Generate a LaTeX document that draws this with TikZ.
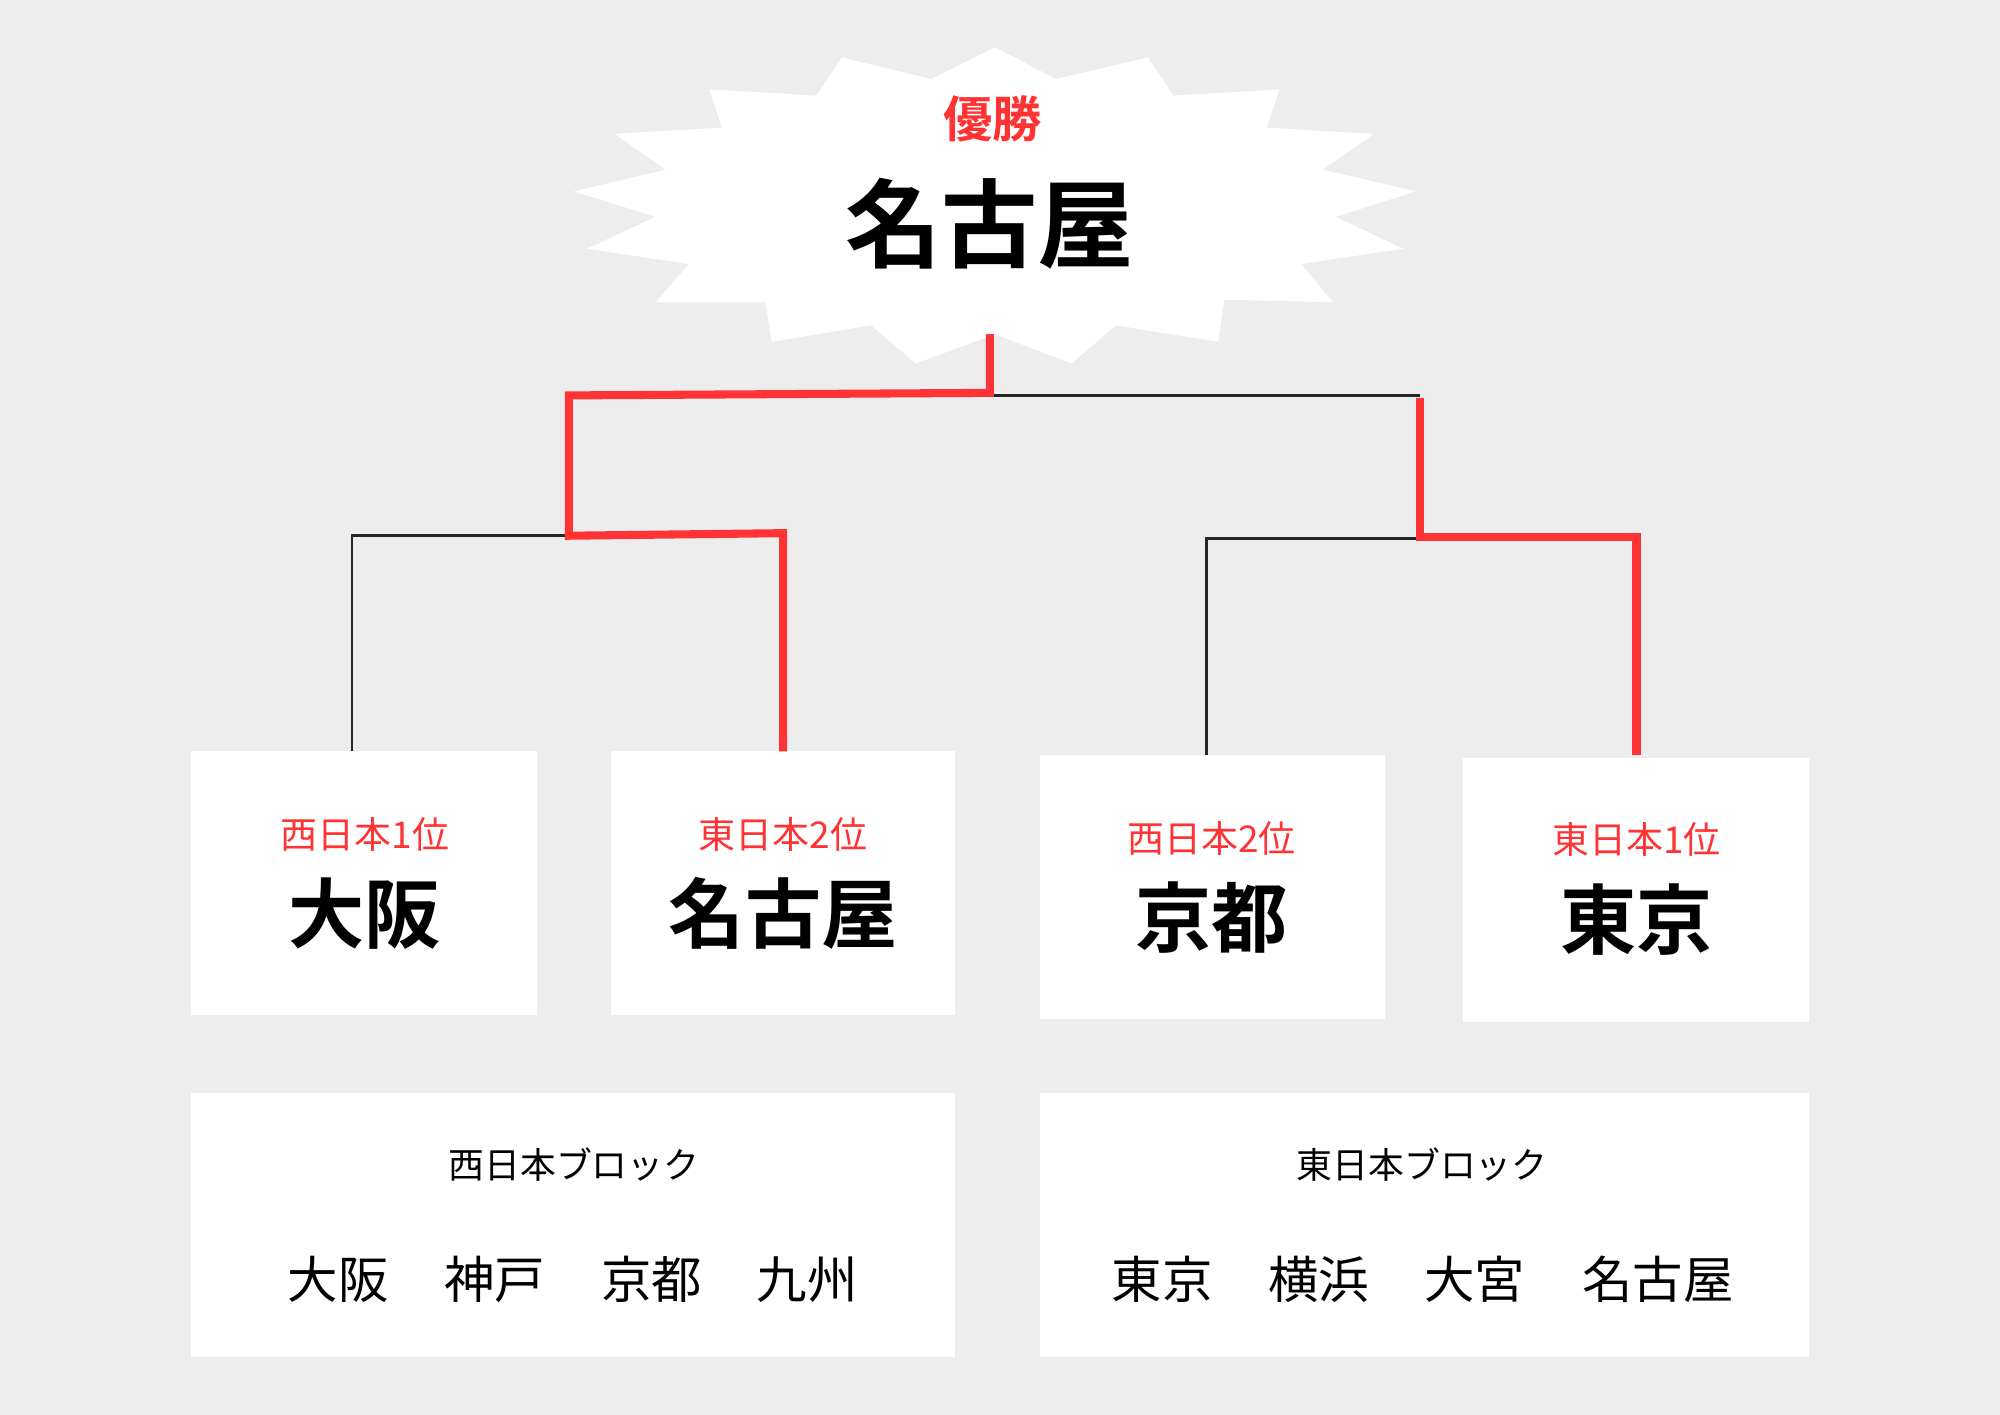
\documentclass[tikz,border=0pt]{standalone}
\usepackage{fontspec}
\newfontfamily\jp{Noto Sans CJK JP}
\newfontfamily\jpb{Noto Sans CJK JP Bold}
\definecolor{bg}{HTML}{EDEDED}
\definecolor{rd}{HTML}{FF3333}
\begin{document}
\begin{tikzpicture}[x=0.02cm,y=-0.02cm,
 box/.style={fill=white,draw=none},
 rank/.style={text=rd,font=\jp\fontsize{16.5}{18}\selectfont,inner sep=0},
 city/.style={font=\jpb\fontsize{34}{36}\selectfont,inner sep=0},
 thin/.style={draw=black!85,line width=1.2pt},
 win/.style={draw=rd,line width=3.6pt,line join=miter}]
\fill[bg] (0,0) rectangle (1568,1109);
\useasboundingbox (0,0) rectangle (1568,1109);
\fill[white] (660,45)--(730,62)--(780,37)--(828,62)--(900,45)--(920,75)--(1003,70)--(993,100)--(1077,105)--(1037,133)--(1110,150)--(1047,170)--(1100,195)--(1020,207)--(1045,237)--(960,235)--(955,268)--(875,255)--(840,285)--(780,262)--(718,285)--(683,255)--(605,268)--(600,237)--(514,237)--(540,207)--(460,195)--(514,170)--(450,150)--(522,133)--(482,105)--(566,100)--(556,70)--(640,75)--cycle;
\node[text=rd,font=\jpb\fontsize{22}{24}\selectfont] (win) at (778,93) {優勝};
\node[font=\jpb\fontsize{43}{46}\selectfont] (champ) at (776,175) {名古屋};
\path[box] (150,589) rectangle (421,796);
\path[box] (479,589) rectangle (749,796);
\path[box] (815,592) rectangle (1086,799);
\path[box] (1147,594) rectangle (1418,801);
\path[box] (150,857) rectangle (749,1064);
\path[box] (815,857) rectangle (1418,1064);
\node[rank] (r1) at (286,654) {西日本1位};
\node[rank] (r2) at (614,654) {東日本2位};
\node[rank] (r3) at (950,657) {西日本2位};
\node[rank] (r4) at (1283,658) {東日本1位};
\node[city] (c1) at (286,716) {大阪};
\node[city] (c2) at (614,716) {名古屋};
\node[city] (c3) at (950,719) {京都};
\node[city] (c4) at (1283,721) {東京};
\coordinate (a1) at (276,589); \coordinate (a2) at (614,589);
\coordinate (a3) at (946,592); \coordinate (a4) at (1283,592);
\coordinate (top) at (776,262);
\draw[thin] (a1)--(276,420)--(446,420);
\draw[thin] (a3)--(946,422)--(1113,422);
\draw[thin] (776,310)--(1113,310);
\draw[win] (a2)--(614,418)--(446,420)--(446,310)--(776,308)--(top);
\draw[win] (a4)--(1283,421)--(1113,421)--(1113,312);
\node[font=\jp\fontsize{16}{18}\selectfont] (wt) at (450,913) {西日本ブロック};
\node[font=\jp\fontsize{16}{18}\selectfont] (et) at (1115,913) {東日本ブロック};
\begin{scope}[every node/.style={font=\jp\fontsize{22.5}{24}\selectfont}]
\node (w1) at (265,1003) {大阪};
\node (w2) at (388,1003) {神戸};
\node (w3) at (511,1003) {京都};
\node (w4) at (633,1003) {九州};
\node (e1) at (911,1003) {東京};
\node (e2) at (1034,1003) {横浜};
\node (e3) at (1156,1003) {大宮};
\node (e4) at (1300,1003) {名古屋};
\end{scope}
\end{tikzpicture}
\end{document}
